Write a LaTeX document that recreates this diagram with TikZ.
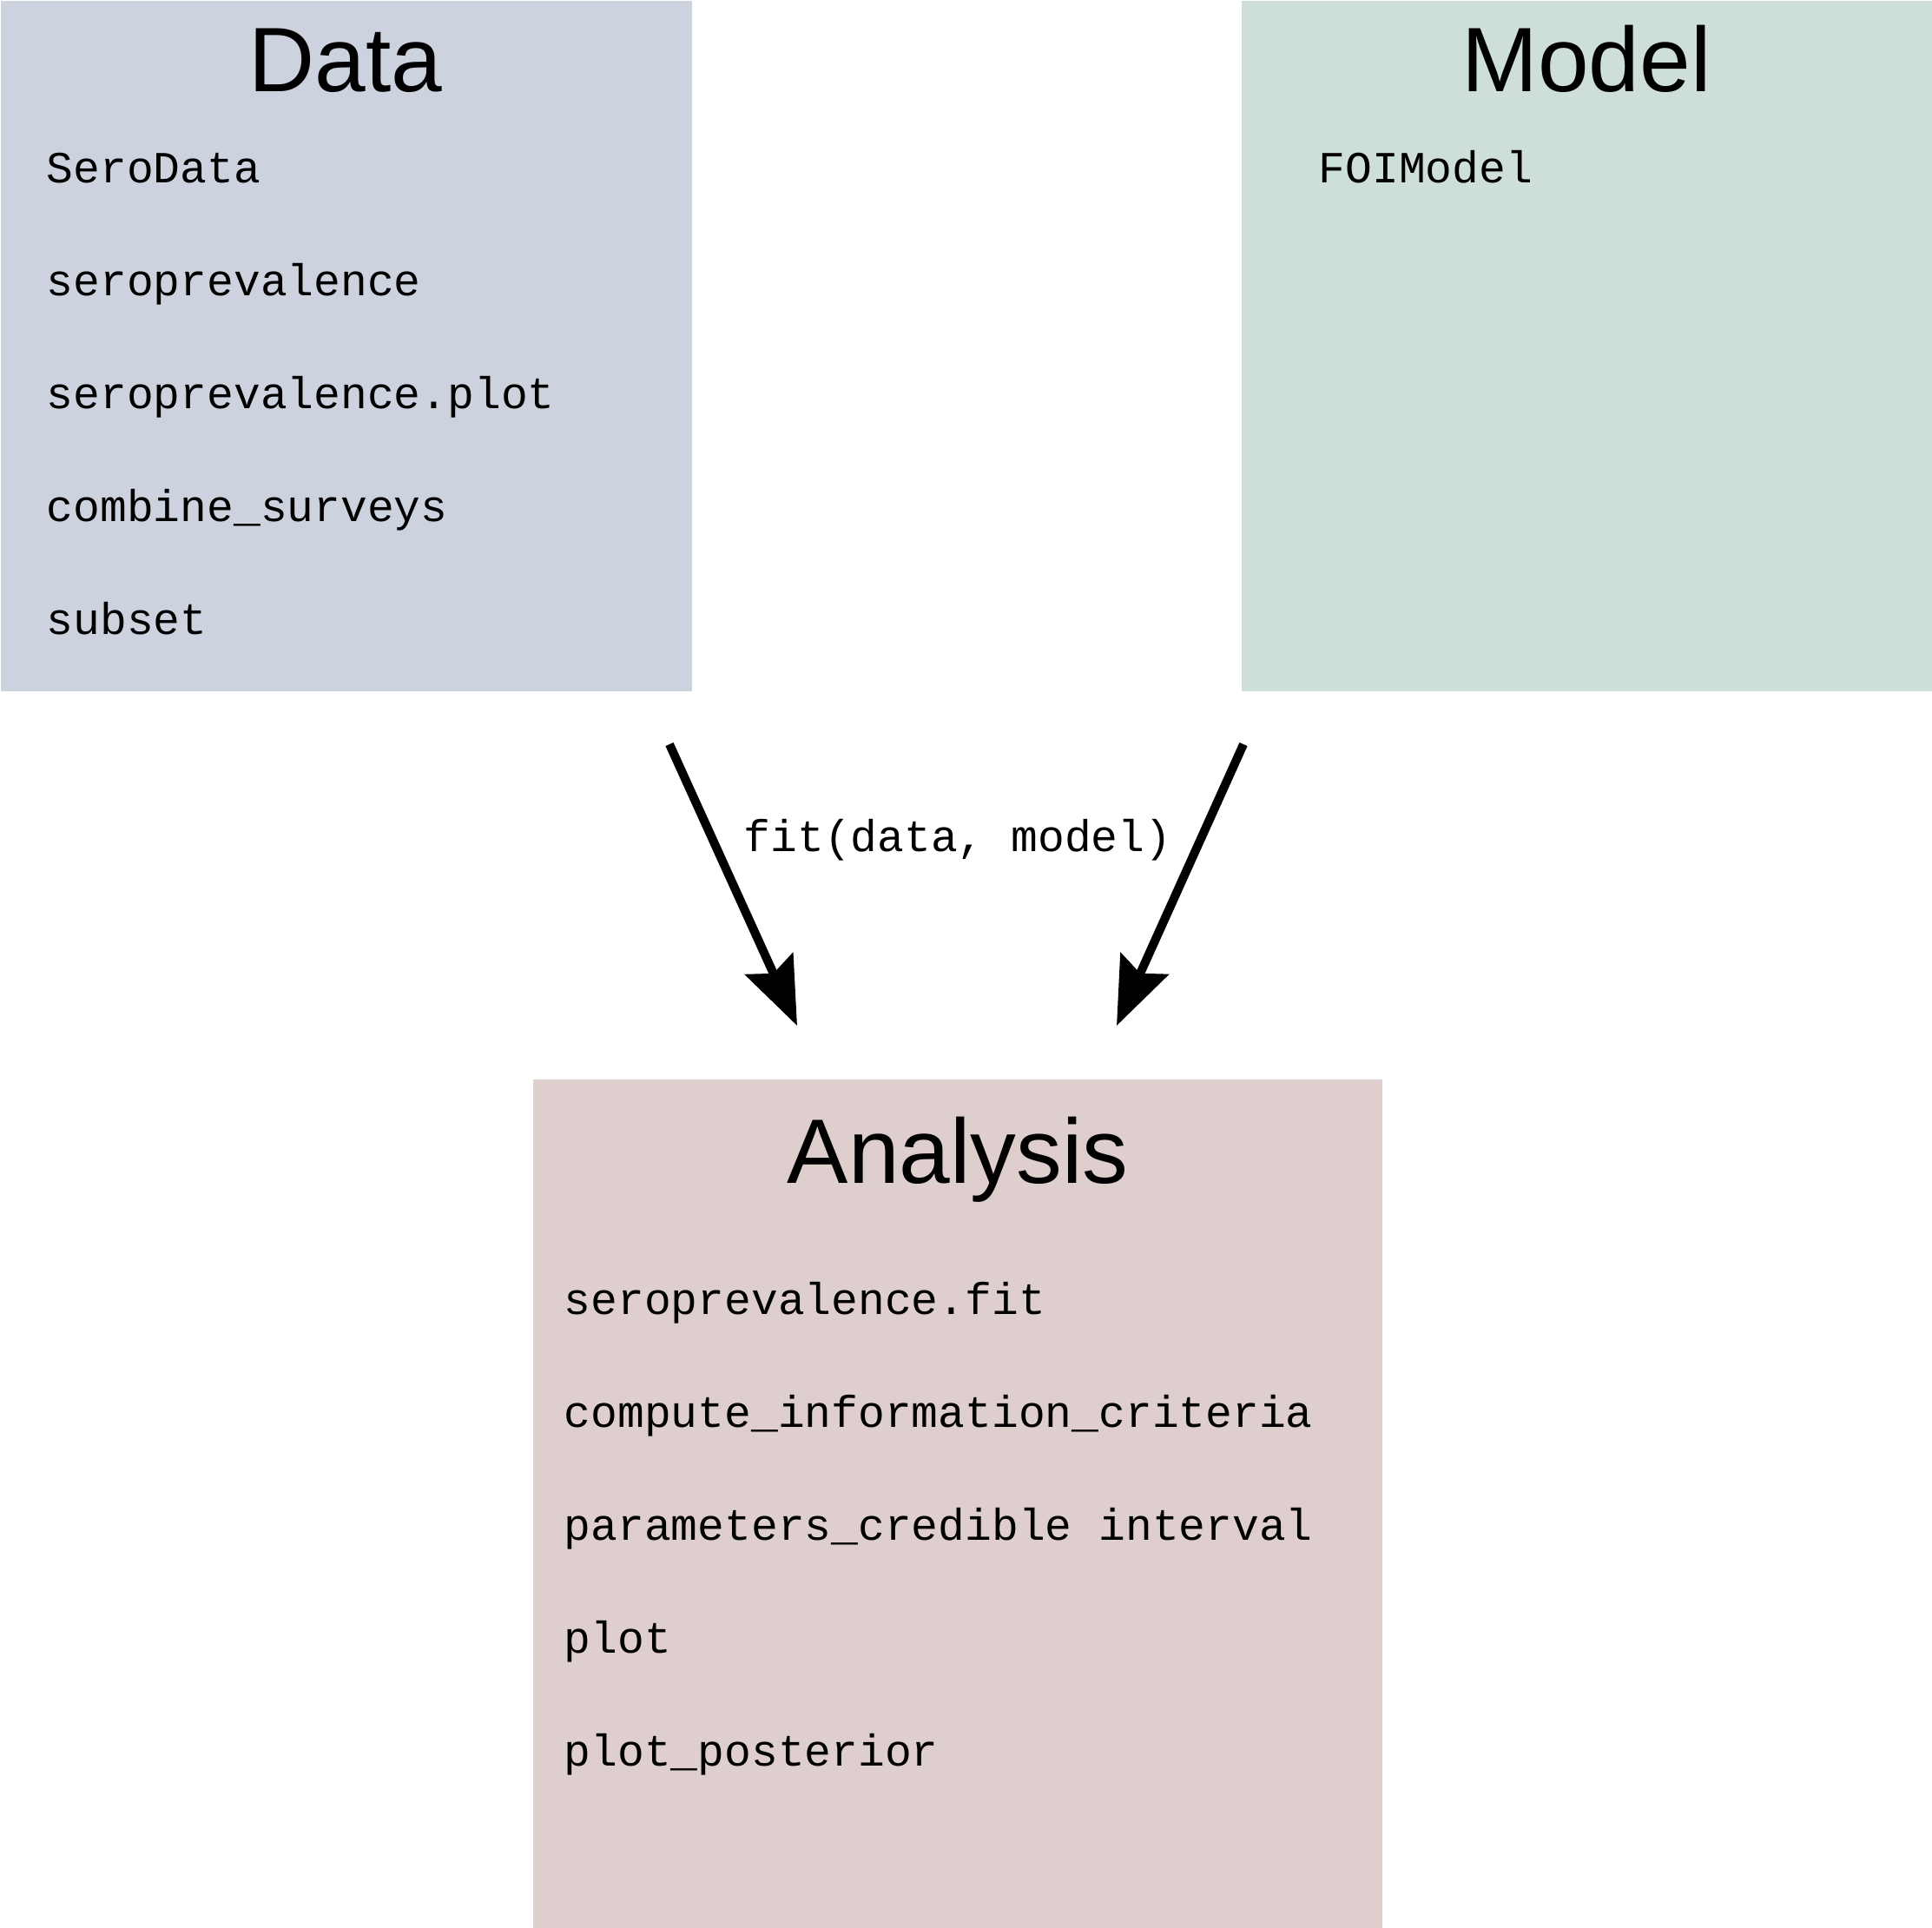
\documentclass[tikz,border=0pt]{standalone}
\usepackage{fontspec}
\setmainfont{Liberation Sans}
\newfontfamily\codefont{Liberation Mono}
\usetikzlibrary{arrows.meta,positioning}

\definecolor{databg}{HTML}{CCD3DF}
\definecolor{modelbg}{HTML}{CEDED8}
\definecolor{anabg}{HTML}{DECECD}

\begin{document}
\begin{tikzpicture}[>=Stealth,
  box/.style={rectangle, inner sep=0pt, anchor=north west, minimum width=#1},
  box/.default=7.96cm,
  heading/.style={anchor=base, inner sep=0pt, font=\fontsize{30}{36}\selectfont},
  item/.style={anchor=base west, inner sep=0pt, font=\codefont\fontsize{14.6}{18}\selectfont},
  flow/.style={line width=0.1cm, -{Stealth[length=0.78cm, width=0.6cm, inset=0.12cm]}}]
\useasboundingbox (0,0) rectangle (22.25,-22.19);
% the three groups
\node[box, fill=databg, minimum height=7.95cm] (data) at (0,0) {};
\node[box, fill=modelbg, minimum height=7.95cm] (model) at (14.29,0) {};
\node[box=9.78cm, fill=anabg, minimum height=9.77cm] (analysis) at (6.13,-12.42) {};
\node[heading] (datatitle) at (3.98,-1.05) {Data};
\node[heading] (modeltitle) at (18.27,-1.05) {Model};
\node[heading] (anatitle) at (11.03,-13.62) {Analysis};
% functions in each group
\foreach \fn [count=\i] in {SeroData, seroprevalence, seroprevalence.plot, combine\_surveys, subset}
  \node[item] (data\i) at (0.53,-2.10-1.30*\i+1.30) {\fn};
\node[item] (model1) at (15.18,-2.10) {FOIModel};
\foreach \fn [count=\i] in {seroprevalence.fit, compute\_information\_criteria,
    parameters\_credible interval, plot, plot\_posterior}
  \node[item] (ana\i) at (6.49,-15.13-1.30*\i+1.30) {\fn};
% fit arrows
\coordinate (dataout) at (7.71,-8.57);
\coordinate (modelout) at (14.32,-8.57);
\coordinate (anainl) at (9.18,-11.81);
\coordinate (anainr) at (12.86,-11.81);
\draw[flow] (dataout) -- (anainl);
\draw[flow] (modelout) -- (anainr);
\node[item, anchor=base] (fitlabel) at (11.03,-9.80) {fit(data, model)};
\end{tikzpicture}
\end{document}
